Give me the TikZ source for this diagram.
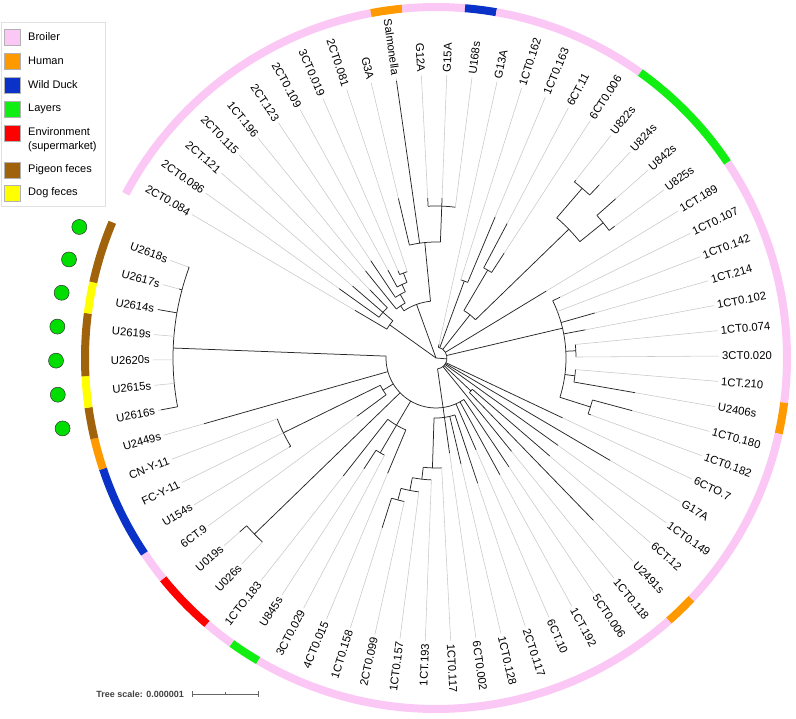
\documentclass[tikz,border=0pt]{standalone}
\usepackage{fontspec}
\setmainfont{Liberation Sans}
\definecolor{broiler}{HTML}{FBC8F6}
\definecolor{human}{HTML}{FF9900}
\definecolor{duck}{HTML}{0A32C8}
\definecolor{layers}{HTML}{11EE11}
\definecolor{env}{HTML}{FF0000}
\definecolor{pigeon}{HTML}{A0620A}
\definecolor{dog}{HTML}{FFFF00}
\definecolor{dotgreen}{HTML}{00DD00}
\newcommand\Rd[3]{\draw[br] ({ang(#1)}:#2pt) -- ({ang(#1)}:#3pt);}
\newcommand\Ar[3]{\draw[br] ({ang(#1)}:#3pt) arc[start angle={ang(#1)}, end angle={ang(#2)}, radius=#3pt];}
\newcommand\Lf[3]{\draw[gl] ({ang(#1)}:#3pt) -- ({ang(#1)}:283pt); \draw[br] ({ang(#1)}:#2pt) -- ({ang(#1)}:#3pt);}
\newcommand\Rg[3]{\draw[ring,#3] ({ang(#1)+2.5714}:351pt) arc[start angle={ang(#1)+2.5714}, end angle={ang(#2)-2.5714}, radius=351pt];}
\begin{document}
\begin{tikzpicture}[x=1pt,y=1pt,
  declare function={ang(\i)=(30-\i)*360/70+0.4;},
  br/.style={draw=black!85, line width=0.75pt},
  gl/.style={draw=black!22, line width=0.55pt},
  ring/.style={line width=8pt},
  lbl/.style={font=\fontsize{11.3}{13}\selectfont, inner sep=0pt},
  dot/.style={circle, draw=black!80, line width=0.5pt, fill=dotgreen, minimum size=15pt, inner sep=0pt},
  sw/.style={draw=black!30, line width=0.4pt},
  leg/.style={font=\fontsize{11}{14}\selectfont, anchor=west, inner sep=0pt, align=left}]
\useasboundingbox (0,0) rectangle (796,-719);
% legend
\draw[black!12, line width=0.6pt] (1,-22) rectangle (105,-206);
\foreach \c/\y/\t [count=\k] in {broiler/37/Broiler, human/61/Human, duck/85/Wild Duck, layers/109/Layers, pigeon/170/Pigeon feces, dog/193/Dog feces}{
  \draw[sw, fill=\c] (4,-\y+8) rectangle (20,-\y-8);
  \node[leg] (leg\k) at (28,-\y) {\t};
}
\draw[sw, fill=env] (4,-125) rectangle (20,-141);
\node[leg] (legenv) at (28,-140) {Environment\\(supermarket)};
% scale bar
\node[font=\fontsize{9}{11}\selectfont\bfseries, text=black!75, anchor=east, inner sep=0pt] (sc) at (184,-694) {Tree scale: 0.000001};
\coordinate (sb1) at (192,-694); \coordinate (sb2) at (258,-694); \coordinate (sbm) at (225,-694);
\draw[black!60, line width=0.7pt] (sb1) -- (sb2);
\draw[black!60, line width=0.7pt] ([yshift=3]sb1) -- ([yshift=-3]sb1);
\draw[black!60, line width=0.7pt] ([yshift=3]sb2) -- ([yshift=-3]sb2);
\draw[black!60, line width=0.7pt] ([yshift=2]sbm) -- (sbm);
\begin{scope}[shift={(436,-358)}]
% colour ring
\Rg{1}{10}{broiler}
\Rg{11}{11}{human}
\Rg{12}{13}{broiler}
\Rg{14}{14}{duck}
\Rg{15}{19}{broiler}
\Rg{20}{23}{layers}
\Rg{24}{31}{broiler}
\Rg{32}{32}{human}
\Rg{33}{38}{broiler}
\Rg{39}{39}{human}
\Rg{40}{53}{broiler}
\Rg{54}{54}{layers}
\Rg{55}{55}{broiler}
\Rg{56}{57}{env}
\Rg{58}{58}{broiler}
\Rg{59}{61}{duck}
\Rg{62}{62}{human}
\Rg{63}{63}{pigeon}
\Rg{64}{64}{dog}
\Rg{65}{66}{pigeon}
\Rg{67}{67}{dog}
\Rg{68}{69}{pigeon}
% green markers
\foreach \i in {63,...,69}{ \node[dot] (g\i) at ({ang(\i)}:380pt) {}; }
% ---- tree ----
% clade E
\Rd{2}{0}{57} \Ar{1}{3}{57}
\Lf{1}{57}{94}
\Rd{3}{57}{70} \Ar{2}{4}{70}
\Lf{2}{70}{119} \Lf{3}{70}{110} \Lf{4}{70}{95}
% clade D
\Rd{8.7}{0}{57} \Ar{5.94}{11.5}{57}
\Rd{5.94}{57}{63} \Ar{5}{6.875}{63} \Lf{5}{63}{112}
\Rd{6.875}{63}{73} \Ar{6}{7.75}{73} \Lf{6}{73}{117}
\Rd{7.75}{73}{81} \Ar{7}{8.5}{81} \Lf{7}{81}{100}
\Rd{8.5}{81}{91} \Ar{8}{9}{91} \Lf{8}{91}{95} \Lf{9}{91}{91}
\Rd{11.5}{57}{116} \Ar{10}{13}{116}
\Lf{10}{116}{164} \Lf{11}{116}{280}
\Rd{13}{116}{152} \Ar{12}{14}{152}
\Lf{12}{152}{160} \Lf{13}{152}{160} \Lf{14}{152}{152}
% clade V (right and bottom)
\Rd{31}{0}{11} \Ar{15}{46}{11}
\Lf{15}{11}{14}
\Rd{16.5}{11}{82} \Ar{16}{17}{82} \Lf{16}{82}{82} \Lf{17}{82}{153}
\Rd{20}{11}{55} \Ar{18.5}{21.5}{55}
\Rd{18.5}{55}{102} \Ar{18}{19}{102} \Lf{18}{102}{152} \Lf{19}{102}{125}
\Rd{21.5}{55}{185} \Ar{20.5}{22.5}{185}
\Rd{20.5}{185}{224} \Ar{20}{21}{224} \Lf{20}{224}{226} \Lf{21}{224}{238}
\Rd{22.5}{185}{215} \Ar{22}{23}{215} \Lf{22}{215}{240} \Lf{23}{215}{222}
\Lf{24}{11}{129}
\Rd{27.5}{11}{130} \Ar{25}{33.5}{130}
\Lf{25}{130}{138} \Lf{26}{130}{130} \Lf{27}{130}{165} \Lf{28}{130}{152}
\Rd{29.5}{130}{140} \Ar{29}{30}{140} \Lf{29}{140}{140} \Lf{30}{140}{140}
\Rd{31.5}{130}{140} \Ar{31}{32}{140} \Lf{31}{140}{140} \Lf{32}{140}{202}
\Rd{33.5}{130}{162} \Ar{33}{34}{162} \Lf{33}{162}{203} \Lf{34}{162}{165}
\Lf{35}{11}{140} \Lf{36}{11}{202} \Lf{37}{11}{150}
\Rd{38.5}{11}{48} \Ar{38}{39}{48} \Lf{38}{48}{150} \Lf{39}{48}{226}
\Lf{40}{11}{120}
% clade B
\Rd{46}{11}{50} \Ar{41}{65.5}{50}
\Lf{41}{50}{131} \Lf{42}{50}{133} \Lf{43}{50}{100}
\Rd{46}{50}{60} \Ar{44}{47.94}{60}
\Lf{44}{60}{132} \Lf{45}{60}{109} \Lf{46}{60}{96}
\Rd{47.94}{60}{110} \Ar{47}{48.875}{110} \Lf{47}{110}{110}
\Rd{48.875}{110}{122} \Ar{48}{49.75}{122} \Lf{48}{122}{122}
\Rd{49.75}{122}{135} \Ar{49}{50.5}{135} \Lf{49}{135}{135}
\Rd{50.5}{135}{147} \Ar{50}{51}{147} \Lf{50}{147}{147} \Lf{51}{147}{178}
\Rd{53.5}{50}{78} \Ar{52}{55}{78} \Lf{52}{78}{125} \Lf{55}{78}{150}
\Rd{53.5}{78}{110} \Ar{53}{54}{110} \Lf{53}{110}{110} \Lf{54}{110}{132}
\Rd{56.5}{50}{253} \Ar{56}{57}{253} \Lf{56}{253}{253} \Lf{57}{253}{262}
\Rd{59}{50}{62} \Ar{58}{60}{62} \Lf{58}{62}{98}
\Rd{60}{62}{170} \Ar{59}{61}{170} \Lf{59}{170}{172} \Lf{60}{170}{170} \Lf{61}{170}{170}
\Lf{62}{50}{241}
\Rd{65.5}{50}{263} \Ar{63}{69}{263}
\Lf{63}{263}{280} \Lf{64}{263}{263} \Lf{65}{263}{263} \Lf{66}{263}{263}
\Lf{67}{263}{282} \Lf{68}{263}{266} \Lf{69}{263}{264}
% leaf labels
\foreach \n [count=\i] in {2CT0.084, 2CT0.086, 2CT.121, 2CT0.115, 1CT.196, 2CT.123, 2CT0.109, 3CT0.019, 2CT0.081, G3A, Salmonella, G12A, G15A, U168s, G13A, 1CT0.162, 1CT0.163, 6CT.11, 6CT0.006, U822s, U824s, U842s, U825s, 1CT.189, 1CT0.107, 1CT0.142, 1CT.214, 1CT0.102, 1CT0.074, 3CT0.020, 1CT.210, U2406s, 1CT0.180, 1CT0.182, 6CTO.7, G17A, 1CT0.149, 6CT.12, U2491s, 1CT0.118, 5CT0.006, 1CT.192, 6CT.10, 2CT0.117, 1CT0.128, 6CT0.002, 1CT0.117, 1CT.193, 1CT0.157, 2CT0.099, 1CT0.158, 4CT0.015, 3CT0.029, U845s, 1CTO.183, U026s, U019s, 6CT.9, U154s, FC-Y-11, CN-Y-11, U2449s, U2616s, U2615s, U2620s, U2619s, U2614s, U2617s, U2618s}{
  \pgfmathsetmacro\a{ang(\i)}
  \pgfmathsetmacro\b{\a+180}
  \pgfmathtruncatemacro\rt{(\a>-90 && \a<90) ? 1 : 0}
  \ifnum\rt=1
    \node[lbl, anchor=west, rotate=\a] (l\i) at (\a:286pt) {\n};
  \else
    \node[lbl, anchor=east, rotate=\b] (l\i) at (\a:286pt) {\n};
  \fi
}
\end{scope}
\end{tikzpicture}
\end{document}
